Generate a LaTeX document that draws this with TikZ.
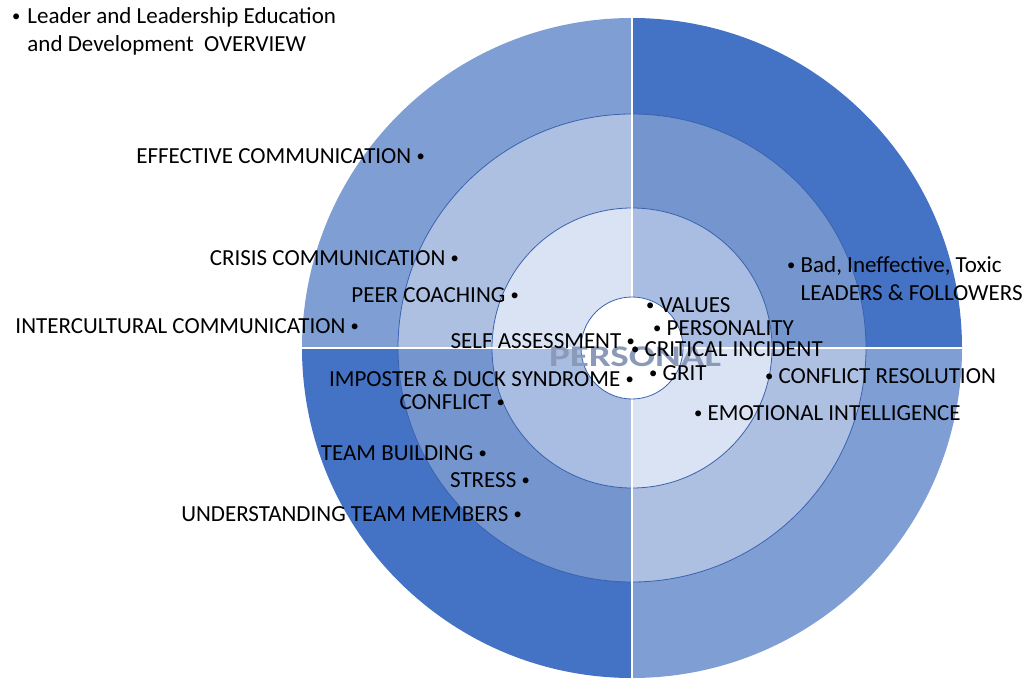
\documentclass[tikz,border=0pt]{standalone}
\usepackage{fontspec}
\setmainfont{Carlito}
\definecolor{dk}{HTML}{4472C4}
\definecolor{outerlt}{HTML}{7F9ED4}
\definecolor{midA}{HTML}{ADC0E2}
\definecolor{midB}{HTML}{7595CE}
\definecolor{innA}{HTML}{DAE3F3}
\definecolor{innB}{HTML}{A9BDE2}
\definecolor{edge}{HTML}{3A62AE}
\definecolor{pers}{HTML}{8A9AB8}
\newcommand{\bul}{\raisebox{2pt}{\scalebox{0.72}{•}}}
\begin{document}
\begin{tikzpicture}[x=1pt,y=-1pt,
  lbl/.style={inner sep=0pt,font=\fontsize{23}{28}\selectfont,text=black},
  lblL/.style={lbl,anchor=base east},
  lblR/.style={lbl,anchor=base west},
  ring/.style={draw=edge,line width=0.8pt},
  sep/.style={draw=white,line width=1.6pt}]
\path[use as bounding box] (0,0) rectangle (1030,679);
\coordinate (c) at (632,348);
% quadrant sectors
\foreach \a/\ca/\cb/\cc in {0/dk/midB/innB, 90/outerlt/midA/innA, 180/dk/midB/innB, 270/outerlt/midA/innA}{
  \fill[\ca] (c) -- ++(\a:330pt) arc[start angle=\a, end angle=\a+90, radius=330pt] -- cycle;
  \fill[\cb] (c) -- ++(\a:234pt) arc[start angle=\a, end angle=\a+90, radius=234pt] -- cycle;
  \fill[\cc] (c) -- ++(\a:140pt) arc[start angle=\a, end angle=\a+90, radius=140pt] -- cycle;
}
\draw[ring] (c) circle[radius=234pt];
\draw[ring] (c) circle[radius=140pt];
\coordinate (hl) at (302,348);
\coordinate (hr) at (962,348);
\coordinate (vt) at (632,17);
\coordinate (vb) at (632,679);
\draw[sep] (hl) -- (hr);
\draw[sep] (vt) -- (vb);
\draw[ring,fill=white] (c) circle[radius=51pt];
\node[inner sep=0pt,font=\fontsize{30}{30}\selectfont\bfseries,text=pers] (personal) at (635,357) {\scalebox{1.3}[1]{PERSONAL}};
% title
\node[lbl,anchor=base west] (title) at (12,24) {\begin{tabular}[t]{@{}l@{}}\bul\hspace{7pt}Leader and Leadership Education\\\hphantom{\bul\hspace{7pt}}and Development~ OVERVIEW\end{tabular}};
% left labels
\node[lblL] (effc) at (425,164) {EFFECTIVE COMMUNICATION \bul};
\node[lblL] (cris) at (459,265) {CRISIS COMMUNICATION \bul};
\node[lblL] (peer) at (519,302) {PEER COACHING \bul};
\node[lblL] (inter) at (359,333) {INTERCULTURAL COMMUNICATION \bul};
\node[lblL] (self) at (635,348) {SELF ASSESSMENT \bul};
\node[lblL] (imp) at (634,386) {IMPOSTER \& DUCK SYNDROME \bul};
\node[lblL] (conf) at (505,409) {CONFLICT \bul};
\node[lblL] (team) at (487,460) {TEAM BUILDING \bul};
\node[lblL] (stress) at (530,487) {STRESS \bul};
\node[lblL] (under) at (522,521) {UNDERSTANDING TEAM MEMBERS \bul};
% right labels
\node[lblR] (values) at (646,312) {\bul\ VALUES};
\node[lblR] (pers2) at (653,335) {\bul\ PERSONALITY};
\node[lblR] (crit) at (631,356) {\bul\ CRITICAL INCIDENT};
\node[lblR] (grit) at (649,380) {\bul\ GRIT};
\node[lblR] (bad) at (787,272) {\begin{tabular}[t]{@{}l@{}}\bul\ Bad, Ineffective, Toxic\\\hphantom{\bul\ }LEADERS \& FOLLOWERS\end{tabular}};
\node[lblR] (cres) at (765,383) {\bul\ CONFLICT RESOLUTION};
\node[lblR] (emo) at (694,420) {\bul\ EMOTIONAL INTELLIGENCE};
\end{tikzpicture}
\end{document}
